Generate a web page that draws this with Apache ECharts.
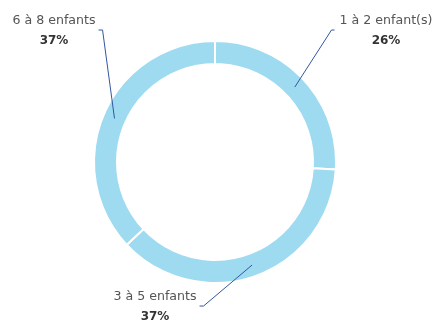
<!DOCTYPE html>
<html>
<head>
<meta charset="utf-8">
<script src="https://cdn.jsdelivr.net/npm/echarts@6/dist/echarts.min.js"></script>
<style>html,body{margin:0;padding:0;background:#fff}#c{width:434px;height:320px}</style>
</head>
<body>
<div id="c"></div>
<script>
const categories = ['1 à 2 enfant(s)', '3 à 5 enfants', '6 à 8 enfants'];
const values = [26, 37, 37];

// label anchor positions (layout only)
const labelAnchors = [[386, 31], [155, 307], [54, 31]];
const labelSide = ['left', 'right', 'right'];

const chart = echarts.init(document.getElementById('c'));
const data = categories.map((c, i) => ({ name: c, value: values[i] }));
const center = [215, 162];
const innerR = 98, outerR = 121;
const midR = (innerR + outerR) / 2;
const total = values.reduce((a, b) => a + b, 0);

function midPoint(i) {
  let cum = 0;
  for (let k = 0; k < i; k++) cum += values[k];
  const frac = (cum + values[i] / 2) / total;
  const ang = (90 - frac * 360) * Math.PI / 180;
  return [center[0] + midR * Math.cos(ang), center[1] - midR * Math.sin(ang)];
}

chart.setOption({
  animation: false,
  series: [
    {
      type: 'pie',
      z: 2,
      center: center,
      radius: [innerR, outerR],
      startAngle: 90,
      clockwise: true,
      silent: true,
      label: { show: false },
      labelLine: { show: false },
      itemStyle: { color: '#9FDBF0', borderColor: '#ffffff', borderWidth: 2 },
      data: data
    },
    {
      type: 'pie',
      z: 5,
      center: center,
      radius: [0, midR],
      startAngle: 90,
      clockwise: true,
      silent: true,
      percentPrecision: 0,
      avoidLabelOverlap: false,
      itemStyle: { color: 'rgba(255,255,255,0)', borderWidth: 0 },
      label: {
        show: true,
        position: 'outside',
        formatter: '{n|{b}}\n{p|{d}%}',
        rich: {
          n: { fontFamily: 'DejaVu Sans', fontSize: 12.6, color: '#555555', lineHeight: 20, align: 'center' },
          p: { fontFamily: 'DejaVu Sans', fontSize: 12, fontWeight: 'bold', color: '#333333', lineHeight: 20, align: 'center' }
        }
      },
      labelLine: { show: true, showAbove: true, lineStyle: { color: '#3356A3', width: 1 } },
      labelLayout: function (p) {
        const a = labelAnchors[p.dataIndex];
        const w = p.labelRect.width;
        const start = midPoint(p.dataIndex);
        let corner, end;
        if (labelSide[p.dataIndex] === 'left') {
          const left = a[0] - w / 2;
          end = [left - 5, a[1] - 1];
          corner = [left - 8, a[1] - 1];
        } else {
          const right = a[0] + w / 2;
          end = [right + 3, a[1] - 1];
          corner = [right + 7, a[1] - 1];
        }
        return {
          x: a[0], y: a[1], align: 'center', verticalAlign: 'middle',
          labelLinePoints: [start, corner, end]
        };
      },
      data: data
    }
  ]
});
</script>
</body>
</html>
